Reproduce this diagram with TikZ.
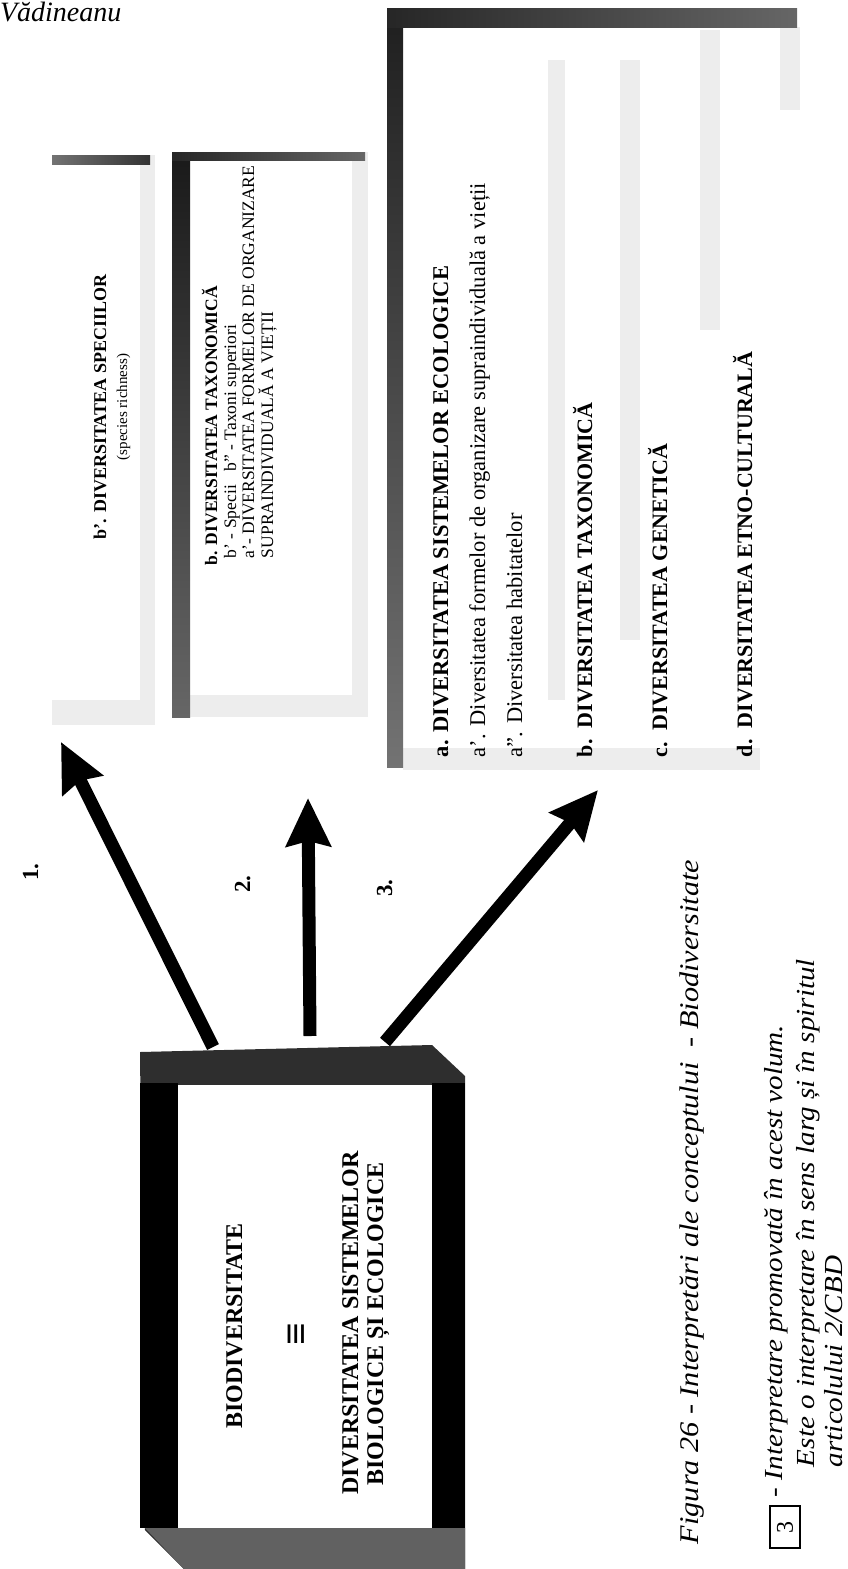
\documentclass[tikz,border=0pt]{standalone}
\usepackage{fontspec}
\setmainfont{Liberation Serif}
\usetikzlibrary{arrows.meta}
\newcommand{\fsz}[1]{\fontsize{#1}{#1}\selectfont}
\newcommand{\wide}[1]{\scalebox{1.12}[1]{#1}}
\begin{document}
\begin{tikzpicture}[x=1pt,y=1pt,
  every node/.style={inner sep=0pt,outer sep=0pt},
  vtext/.style={rotate=90,anchor=base west},
  vmid/.style={rotate=90,anchor=base},
  bigarrow/.style={line width=13pt,-{Stealth[length=48pt,width=44pt,inset=5pt]}},
  haze/.style={fill=black!7},
]
\useasboundingbox (0,0) rectangle (848,-1569);

% running head
\node[anchor=base west,font=\fsz{28}\itshape] (head) at (0,-21) {Vădineanu};

% ---- box 1 ----
\fill[haze] (140,-155) rectangle (155,-725);
\fill[haze] (52,-700) rectangle (155,-725);
\shade[left color=black!55,right color=black!80] (52,-155) rectangle (150,-164);
\node[minimum width=95pt,minimum height=536pt] (b1) at (100,-432) {};
\node[vmid,font=\fsz{18}\bfseries] (b1t) at (106,-407) {b'. DIVERSITATEA SPECIILOR};
\node[vmid,font=\fsz{15}] (b1s) at (127,-407) {(species richness)};

% ---- box 2 ----
\fill[haze] (352,-152) rectangle (368,-717);
\fill[haze] (172,-695) rectangle (368,-717);
\shade[top color=black!90,bottom color=black!60] (172,-152) rectangle (190,-717);
\shade[left color=black!85,right color=black!60] (172,-152) rectangle (365,-160);
\node[minimum width=175pt,minimum height=555pt] (b2) at (278,-438) {};
\node[vtext,font=\fsz{17.5}\bfseries] (b2a) at (217,-565) {b. DIVERSITATEA TAXONOMICĂ};
\node[vtext,font=\fsz{17.5}] (b2b) at (236,-558) {b' - Specii\hspace{14pt}b'' - Taxoni superiori};
\node[vtext,font=\fsz{17.5}] (b2c) at (254,-558) {a'- DIVERSITATEA FORMELOR DE ORGANIZARE};
\node[vtext,font=\fsz{17.5}] (b2d) at (273,-558) {SUPRAINDIVIDUALĂ A VIEȚII};

% ---- box 3 ----
\fill[haze] (548,-60) rectangle (565,-700);
\fill[haze] (620,-60) rectangle (640,-640);
\fill[haze] (700,-30) rectangle (720,-330);
\fill[haze] (780,-27) rectangle (800,-110);
\fill[haze] (403,-748) rectangle (760,-770);
\shade[top color=black!88,bottom color=black!55] (387,-8) rectangle (403,-767);
\shade[left color=black!85,right color=black!60] (387,-8) rectangle (797,-27);
\node[minimum width=390pt,minimum height=740pt] (b3) at (592,-388) {};
\node[vtext,font=\fsz{22.5}\bfseries] (b3a) at (448,-757) {a. DIVERSITATEA SISTEMELOR ECOLOGICE};
\node[vtext,font=\fsz{22.5}] (b3a1) at (485,-757) {a'. Diversitatea formelor de organizare supraindividuală a vieții};
\node[vtext,font=\fsz{22.5}] (b3a2) at (522,-757) {a''. Diversitatea habitatelor};
\node[vtext,font=\fsz{22}\bfseries] (b3b) at (592,-757) {b.\ \ DIVERSITATEA TAXONOMICĂ};
\node[vtext,font=\fsz{22}\bfseries] (b3c) at (667,-757) {c.\ \ DIVERSITATEA GENETICĂ};
\node[vtext,font=\fsz{22}\bfseries] (b3d) at (752,-757) {d.\ \ DIVERSITATEA ETNO-CULTURALĂ};

% ---- central box ----
\fill[black!82] (140,-1052) -- (432,-1045) -- (465,-1076) -- (465,-1569)
  -- (184,-1569) -- (145,-1530) -- cycle;
\fill[black!62] (145,-1528) -- (465,-1528) -- (465,-1569) -- (184,-1569) -- cycle;
\fill[black] (140,-1083) rectangle (178,-1528);
\fill[black] (432,-1083) rectangle (465,-1528);
\node[fill=white,minimum width=254pt,minimum height=443pt] (bio) at (305,-1306.5) {};
\node[vmid,font=\fsz{24}\bfseries] (bioa) at (242,-1326) {BIODIVERSITATE};
\node[rotate=90,font=\fsz{40}\bfseries] (bioe) at (299,-1334) {≡};
\node[vmid,font=\fsz{24}\bfseries] (biob) at (358,-1323) {DIVERSITATEA SISTEMELOR};
\node[vmid,font=\fsz{24}\bfseries] (bioc) at (383,-1324) {BIOLOGICE ȘI ECOLOGICE};

% ---- arrows ----
\coordinate (s1) at (213,-1047);
\coordinate (s2) at (310,-1036);
\coordinate (s3) at (385,-1042);
\coordinate (t1) at (61,-742);
\coordinate (t2) at (308,-798);
\coordinate (t3) at (598,-790);
\draw[bigarrow] (s1) -- (t1);
\draw[bigarrow] (s2) -- (t2);
\draw[bigarrow] (s3) -- (t3);
\node[vmid,font=\fsz{23}\bfseries] (l1) at (38,-872) {1.};
\node[vmid,font=\fsz{23}\bfseries] (l2) at (250,-884) {2.};
\node[vmid,font=\fsz{23}\bfseries] (l3) at (392,-888) {3.};

% ---- caption and legend ----
\node[vmid,font=\fsz{27}\itshape] (cap) at (698,-1202) {\wide{Figura 26 - Interpretări ale conceptului\ \ - Biodiversitate}};
\node[draw,line width=1.2pt,minimum width=30pt,minimum height=42pt] (key) at (785,-1527) {};
\node[rotate=90,font=\fsz{24}] (keyn) at (key) {3};
\node[vtext,font=\fsz{26}\itshape] (lg1) at (782,-1497) {\wide{- Interpretare promovată în acest volum.}};
\node[vtext,font=\fsz{26}\itshape] (lg2) at (814,-1467) {\wide{Este o interpretare în sens larg și în spiritul}};
\node[vtext,font=\fsz{26}\itshape] (lg3) at (842,-1467) {\wide{articolului 2/CBD}};
\end{tikzpicture}
\end{document}
